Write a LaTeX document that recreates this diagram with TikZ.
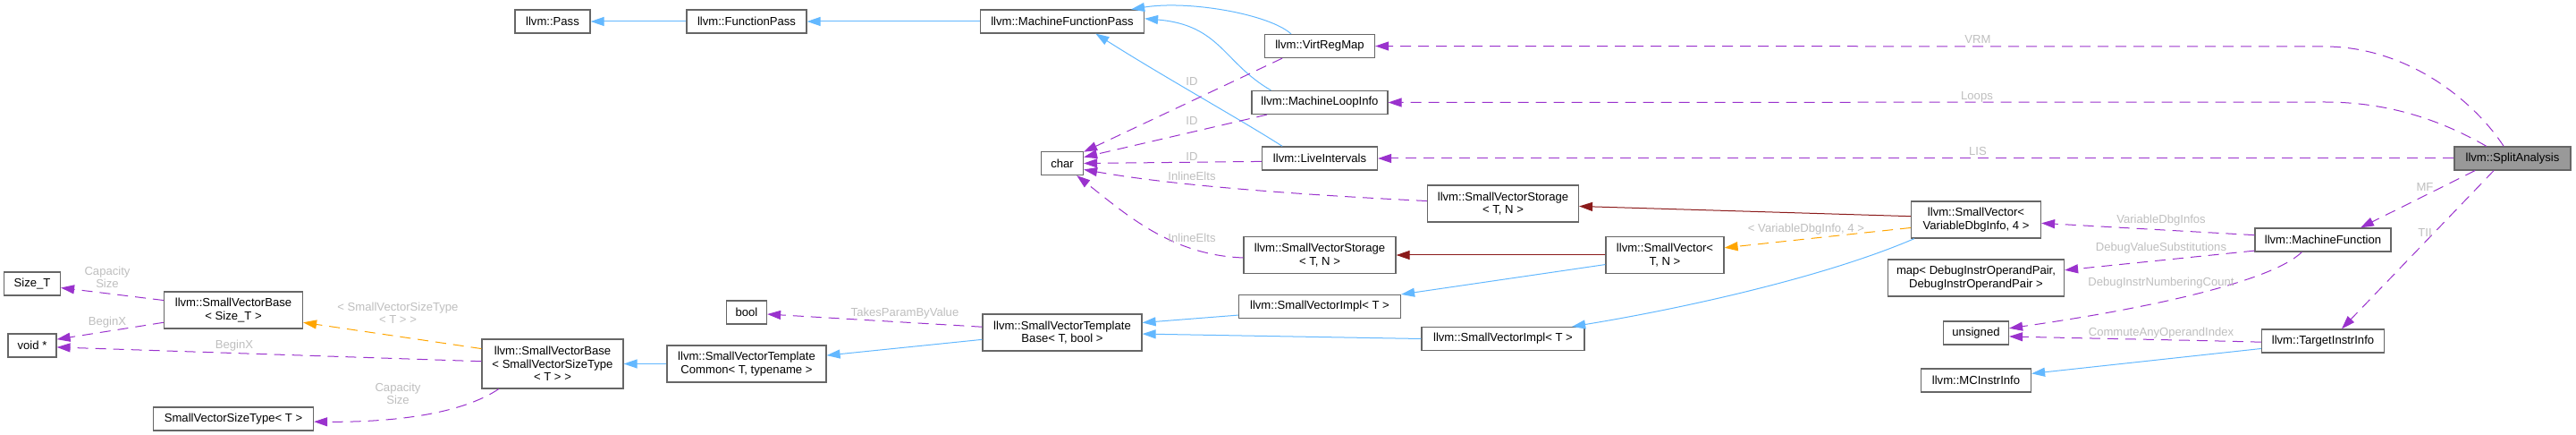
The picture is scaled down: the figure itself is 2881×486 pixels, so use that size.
\documentclass[tikz,border=0pt]{standalone}
\usepackage{fontspec}
\setmainfont{Liberation Sans}
\usetikzlibrary{arrows.meta}
\definecolor{edgeblue}{HTML}{63B8FF}
\definecolor{edgered}{HTML}{8B1A1A}
\definecolor{edgeorange}{HTML}{FFA500}
\definecolor{edgepurple}{HTML}{9A32CD}
\definecolor{boxgray}{HTML}{666666}
\definecolor{labelgray}{HTML}{BEBEBE}
\definecolor{focusgray}{HTML}{999999}
\tikzset{
  cls/.style={draw=boxgray, fill=white, line width=1.2pt, align=center, inner xsep=4pt, inner ysep=2pt, minimum height=26pt, font=\fontsize{13.1}{14.5}\selectfont},
  cls2/.style={cls, minimum height=41pt},
  cls3/.style={cls, minimum height=55pt},
  lbl/.style={text=labelgray, align=center, inner sep=0pt, font=\fontsize{13.1}{14.5}\selectfont},
  arr/.style={-{Triangle[length=15pt,width=10pt]}, line width=1pt},
  inherit/.style={arr, edgeblue},
  owns/.style={arr, edgered},
  templ/.style={arr, edgeorange, dash pattern=on 12pt off 8pt},
  uses/.style={arr, edgepurple, dash pattern=on 12pt off 8pt},
}

\begin{document}
\begin{tikzpicture}[x=1pt,y=-1pt]
        \useasboundingbox (0,0) rectangle (2881,486);
        \node[cls, minimum width=84pt] at (618,24) (pass) {llvm::Pass};
        \node[cls, minimum width=134pt] at (835,24) (fp) {llvm::FunctionPass};
        \node[cls, minimum width=183pt] at (1188,24) (mfp) {llvm::MachineFunctionPass};
        \node[cls, minimum width=123pt] at (1476,51.5) (vrm) {llvm::VirtRegMap};
        \node[cls, minimum width=152pt] at (1476,114.5) (mli) {llvm::MachineLoopInfo};
        \node[cls, minimum width=129pt] at (1476,177) (li) {llvm::LiveIntervals};
        \node[cls, minimum width=47pt] at (1188,182.5) (charT) {char};
        \node[cls, minimum width=130pt, fill=focusgray] at (2810,177) (sa) {llvm::SplitAnalysis};
        \node[cls2, minimum width=169pt] at (1681,227.5) (svsU) {llvm::SmallVectorStorage\\< T, N >};
        \node[cls2, minimum width=170pt] at (1476,285) (svsL) {llvm::SmallVectorStorage\\< T, N >};
        \node[cls2, minimum width=132pt] at (1862,285) (svtn) {llvm::SmallVector<\\T, N >};
        \node[cls2, minimum width=145pt] at (2210,245.5) (svvdi) {llvm::SmallVector<\\VariableDbgInfo, 4 >};
        \node[cls2, minimum width=197pt] at (2210,310.5) (mapT) {map< DebugInstrOperandPair,\\DebugInstrOperandPair >};
        \node[cls, minimum width=73pt] at (2210,372) (uns) {unsigned};
        \node[cls, minimum width=123pt] at (2210,425) (mcii) {llvm::MCInstrInfo};
        \node[cls, minimum width=152pt] at (2598,268) (mf) {llvm::MachineFunction};
        \node[cls, minimum width=137pt] at (2598,381) (tii) {llvm::TargetInstrInfo};
        \node[cls, minimum width=181pt] at (1476,342.5) (svimplU) {llvm::SmallVectorImpl< T >};
        \node[cls, minimum width=182pt] at (1681,378.5) (svimplL) {llvm::SmallVectorImpl< T >};
        \node[cls2, minimum width=178pt] at (1188,371.5) (svtb) {llvm::SmallVectorTemplate\\Base< T, bool >};
        \node[cls2, minimum width=178pt] at (835,406.5) (svtc) {llvm::SmallVectorTemplate\\Common< T, typename >};
        \node[cls, minimum width=45pt] at (835,349) (boolT) {bool};
        \node[cls3, minimum width=158pt] at (618,406.5) (svbst) {llvm::SmallVectorBase\\< SmallVectorSizeType\\< T > >};
        \node[cls2, minimum width=155pt] at (261,346.5) (svbsz) {llvm::SmallVectorBase\\< Size\_T >};
        \node[cls, minimum width=179pt] at (261,468) (svst) {SmallVectorSizeType< T >};
        \node[cls, minimum width=63pt] at (36,317) (sizet) {Size\_T};
        \node[cls, minimum width=54pt] at (36,386) (voidp) {void *};

        \draw[inherit] (fp) -- (pass);
        \draw[inherit] (mfp) -- (fp);
        \draw[inherit] (vrm.157) .. controls (1420,16) and (1330,0) .. (mfp.10);
        \draw[inherit] (mli.166) .. controls (1368,70) and (1365,28) .. (mfp.2);
        \draw[inherit] (li.162) .. controls (1390,135) and (1300,85) .. (mfp.-20);
        \draw[inherit] (svtc) -- (svbst);
        \draw[inherit] (svtb.185) -- (svtc.6);
        \draw[inherit] (svimplU.186) -- (svtb.7);
        \draw[inherit] (svimplL.west) -- (svtb.-1);
        \draw[inherit] (svtn.189) -- (svimplU.north east);
        \draw[inherit] (svvdi.197) .. controls (2040,310) and (1880,345) .. (svimplL.10);
        \draw[inherit] (tii.187) -- (mcii.7);

        \draw[owns] (svvdi.177) -- (svsU.-2);
        \draw[owns] (svtn) -- (svsL);

        \draw[templ] (svvdi.187) -- (svtn.7);
        \draw[templ] (svbst.168) -- (svbsz.-10);

        \draw[uses] (sa.126) .. controls (2765,110) and (2690,52) .. (2600,52) -- (vrm.east);
        \draw[uses] (sa.155) .. controls (2740,140) and (2680,114) .. (2600,114) -- (mli.east);
        \draw[uses] (sa) -- (li);
        \draw[uses] (sa.198) -- (mf.18);
        \draw[uses] (sa.213) -- (tii.33);
        \draw[uses] (mf.176) -- (svvdi.-3);
        \draw[uses] (mf.189) -- (mapT.5);
        \draw[uses] (mf.210) .. controls (2540,315) and (2400,345) .. (uns.8);
        \draw[uses] (tii.181) .. controls (2450,380) and (2330,378) .. (uns.-6);
        \draw[uses] (vrm.198) -- (charT.28);
        \draw[uses] (mli.193) -- (charT.16);
        \draw[uses] (li.183) -- (charT.east);
        \draw[uses] (svsU.178) .. controls (1420,216) and (1300,205) .. (charT.-16);
        \draw[uses] (svsL.182) .. controls (1310,285) and (1260,240) .. (charT.-40);
        \draw[uses] (svtb.176) -- (boolT.-5);
        \draw[uses] (svbsz.172) -- (sizet.-8);
        \draw[uses] (svbsz.190) -- (voidp.14);
        \draw[uses] (svbst.178) -- (voidp.-4);
        \draw[uses] (svbst.205) .. controls (520,460) and (450,472) .. (svst.-2);

        \node[lbl] at (2212,44) (lvrm) {VRM};
        \node[lbl] at (2211,108) (lloops) {Loops};
        \node[lbl] at (2212,169) (llis) {LIS};
        \node[lbl] at (2712,209) (lmf) {MF};
        \node[lbl] at (2712,260) (ltii) {TII};
        \node[lbl] at (2417,246) (lvdis) {VariableDbgInfos};
        \node[lbl] at (2417,277) (ldvs) {DebugValueSubstitutions};
        \node[lbl] at (2417,316) (ldinc) {DebugInstrNumberingCount};
        \node[lbl] at (2417,372) (lcaoi) {CommuteAnyOperandIndex};
        \node[lbl] at (2020,256) (lvdi) {< VariableDbgInfo, 4 >};
        \foreach \n/\y in {1/91, 2/135, 3/175} {
          \node[lbl] at (1333,\y) (lid\n) {ID};
        }
        \node[lbl] at (1333,197) (lie1) {InlineElts};
        \node[lbl] at (1333,266) (lie2) {InlineElts};
        \node[lbl] at (1012,350) (ltpbv) {TakesParamByValue};
        \node[lbl] at (445,350) (lsvst) {< SmallVectorSizeType\\< T > >};
        \node[lbl] at (445,440) (lcap2) {Capacity\\Size};
        \node[lbl] at (120,310) (lcap1) {Capacity\\Size};
        \node[lbl] at (120,360) (lbx1) {BeginX};
        \node[lbl] at (262,386) (lbx2) {BeginX};
      \end{tikzpicture}
\end{document}
